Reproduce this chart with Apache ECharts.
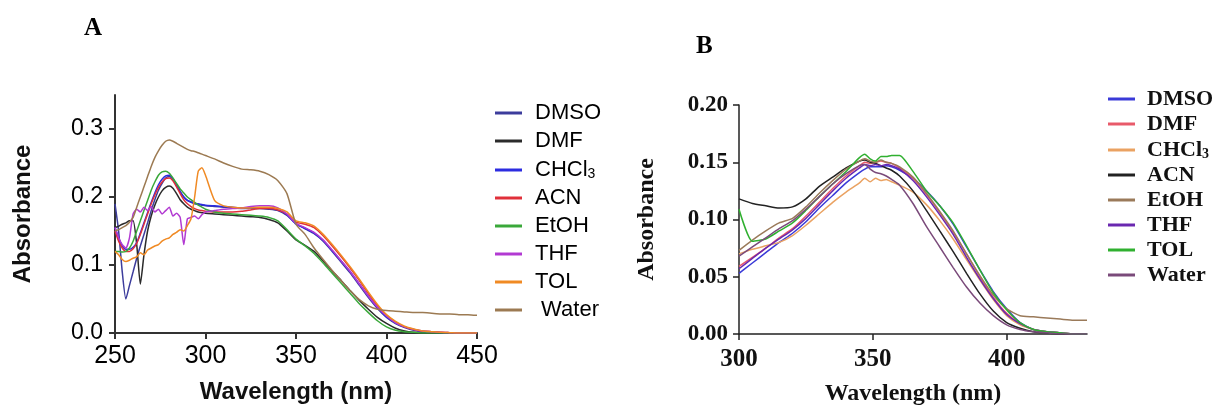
<!DOCTYPE html>
<html>
<head>
<meta charset="utf-8">
<script src="https://cdn.jsdelivr.net/npm/echarts@6/dist/echarts.min.js"></script>
<style>
  html, body { margin: 0; padding: 0; background: #fff; }
  #main { width: 1225px; height: 411px; }
</style>
</head>
<body>
<div id="main"></div>
<script>
// ---- panel A : 250-450 nm ----
var wlA = [250,252,254,256,258,260,262,264,266,268,270,272,274,276,278,280,282,284,286,288,
           290,292,294,296,298,300,305,310,315,320,325,330,335,340,345,350,355,360,365,370,
           375,380,385,390,395,400,405,410,415,420,425,430,435,440,445,450];
var dmsoA  = [.19,.15,.09,.05,.07,.09,.11,.128,.145,.162, .18,.196,.21,.22,.228,.23,.226,.218,.208,.2,
              .195,.192,.19,.189,.188,.187,.186,.185,.184,.183, .183,.183,.182,.18,.173,.161,.153,.146,.135,.12,
              .104,.088,.07,.052,.036,.023,.014,.008,.004,.002, .001,.0005,0,0,0,0];
var dmfA   = [.155,.157,.16,.162,.165,.165,.13,.072,.115,.15, .172,.188,.2,.209,.214,.216,.213,.205,.196,.19,
              .185,.182,.18,.178,.177,.176,.175,.174,.173,.172, .171,.17,.167,.162,.15,.137,.129,.12,.106,.091,
              .077,.062,.048,.035,.023,.014,.007,.003,.001,0, 0,0,0,0,0,0];
var chcl3A = [.155,.14,.128,.123,.123,.126,.133,.147,.162,.177, .192,.206,.218,.226,.231,.232,.227,.218,.208,.2,
              .195,.193,.191,.19,.189,.188,.187,.186,.185,.184, .184,.184,.183,.181,.174,.16,.154,.147,.136,.121,
              .106,.09,.072,.054,.038,.024,.015,.009,.005,.002, .001,.0005,0,0,0,0];
var acnA   = [.15,.135,.125,.12,.12,.124,.132,.145,.16,.175, .19,.203,.214,.222,.227,.228,.224,.215,.205,.196,
              .19,.186,.183,.181,.18,.179,.178,.178,.178,.179, .181,.183,.183,.181,.175,.163,.16,.155,.143,.128,
              .112,.095,.077,.058,.04,.026,.016,.009,.005,.003, .002,.001,.0005,0,0,0];
var etohA  = [.12,.12,.119,.12,.125,.135,.15,.165,.18,.195, .21,.222,.232,.237,.238,.235,.228,.22,.212,.206,
              .2,.196,.192,.188,.185,.182,.178,.176,.175,.174, .173,.172,.17,.165,.152,.138,.128,.117,.103,.088,
              .073,.058,.043,.03,.018,.009,.004,.002,.001,0, 0,0,0,0,0,0];
var thfA   = [.155,.14,.13,.125,.14,.175,.182,.178,.185,.18, .186,.178,.182,.175,.18,.185,.172,.176,.17,.13,
              .168,.17,.172,.168,.174,.178,.18,.182,.183,.184, .186,.187,.187,.184,.175,.161,.155,.148,.137,.122,
              .106,.09,.072,.054,.038,.025,.015,.009,.005,.003, .002,.001,.0005,0,0,0];
var tolA   = [.12,.115,.108,.105,.107,.11,.112,.118,.115,.122, .125,.128,.13,.135,.138,.14,.145,.148,.152,.15,
              .158,.168,.2,.238,.243,.232,.195,.187,.185,.184, .184,.185,.185,.183,.178,.165,.162,.157,.145,.13,
              .114,.097,.079,.06,.042,.027,.017,.01,.006,.003, .002,.001,.0005,0,0,0];
var waterA = [.15,.152,.155,.158,.163,.17,.185,.2,.215,.23, .245,.258,.268,.276,.282,.284,.282,.279,.276,.273,
              .27,.268,.267,.265,.263,.261,.256,.25,.245,.241, .24,.238,.233,.224,.205,.16,.145,.125,.108,.092,
              .077,.062,.049,.04,.035,.033,.032,.031,.03,.03, .029,.028,.028,.027,.027,.026];

// ---- panel B : 300-430 nm ----
var wlB = [300,305,310,315,320,325,330,335,340,345,347,349,351,353,355,357,
           360,365,370,375,380,385,390,395,400,405,410,415,420,425,430];
var dmsoB  = [.053,.062,.071,.080,.088,.098,.110,.121,.132,.141, .144,.146,.146,.146,.147,.146,
              .143,.136,.125,.112,.096,.076,.056,.037,.022,.010,.004,.002,.001,0,0];
var dmfB   = [.059,.067,.075,.084,.092,.103,.115,.127,.138,.147, .150,.149,.150,.151,.150,.149,
              .145,.136,.122,.106,.089,.070,.050,.032,.018,.009,.004,.002,.001,0,0];
var chcl3B = [.070,.074,.077,.080,.086,.095,.105,.115,.124,.132, .136,.133,.136,.134,.135,.133,
              .130,.124,.113,.099,.083,.065,.047,.030,.016,.008,.004,.002,.001,0,0];
var acnB   = [.118,.114,.112,.110,.111,.118,.129,.137,.145,.151, .152,.150,.149,.147,.145,.143,
              .138,.125,.108,.090,.072,.053,.035,.020,.010,.005,.002,.001,0,0,0];
var etohB  = [.073,.082,.090,.097,.101,.111,.123,.134,.144,.151, .153,.151,.150,.152,.150,.149,
              .146,.137,.123,.107,.090,.070,.051,.034,.022,.016,.015,.014,.013,.012,.012];
var thfB   = [.057,.066,.075,.083,.091,.101,.113,.125,.136,.145, .148,.147,.148,.147,.148,.147,
              .144,.134,.120,.104,.087,.067,.048,.031,.017,.009,.004,.002,.001,0,0];
var tolB   = [.109,.081,.083,.090,.097,.108,.120,.131,.142,.154, .157,.153,.151,.155,.155,.156,
              .156,.142,.125,.112,.097,.077,.056,.036,.021,.010,.004,.002,.001,0,0];
var waterB = [.068,.076,.084,.092,.099,.109,.120,.131,.140,.147, .148,.144,.141,.140,.138,.135,
              .130,.114,.094,.076,.058,.041,.027,.016,.008,.004,.002,.001,0,0,0];

var namesA  = ['DMSO','DMF','CHCl3','ACN','EtOH','THF','TOL','Water'];
var seriesA = [dmsoA, dmfA, chcl3A, acnA, etohA, thfA, tolA, waterA];
var colorsA = ['#3c3c9c','#2b2b2b','#2c2ce0','#e0303a','#3aa83a','#b23ad2','#f08a24','#9c7a52'];
var namesB  = ['DMSO','DMF','CHCl3','ACN','EtOH','THF','TOL','Water'];
var seriesB = [dmsoB, dmfB, chcl3B, acnB, etohB, thfB, tolB, waterB];
var colorsB = ['#3a3ad8','#e85a6a','#eaa262','#222222','#9a7a5a','#6a28b0','#30b030','#7a4a7a'];

function pairs(xs, ys) {
    var out = [];
    for (var i = 0; i < xs.length; i++) out.push([xs[i], ys[i]]);
    return out;
}

// legend text: drop the panel prefix, subscript the 3 of CHCl3
function legendName(name) {
    var n = name.slice(2);
    if (n === 'CHCl3') return 'CHCl{sub|3}';
    if (name === 'A-Water') return ' Water';
    return n;
}

var sansFont = 'Liberation Sans';
var serifFont = 'Liberation Serif';

var series = [];
namesA.forEach(function (n, i) {
    series.push({
        name: 'A-' + n, type: 'line', xAxisIndex: 0, yAxisIndex: 0,
        data: pairs(wlA, seriesA[i]), showSymbol: false, symbol: 'none', smooth: 0.2,
        color: colorsA[i], lineStyle: { width: 1.5 }
    });
});
namesB.forEach(function (n, i) {
    series.push({
        name: 'B-' + n, type: 'line', xAxisIndex: 1, yAxisIndex: 1,
        data: pairs(wlB, seriesB[i]), showSymbol: false, symbol: 'none', smooth: 0.2,
        color: colorsB[i], lineStyle: { width: 1.5 }
    });
});

var myChart = echarts.init(document.getElementById('main'));
var option = {
    backgroundColor: '#fff',
    animation: false,
    grid: [
        { left: 115, top: 95, width: 362, height: 238 },
        { left: 739, top: 105, width: 348, height: 230 }
    ],
    xAxis: [{
        gridIndex: 0, type: 'value', min: 250, max: 450, interval: 50,
        name: 'Wavelength (nm)', nameLocation: 'middle', nameGap: 47,
        nameTextStyle: { fontFamily: sansFont, fontWeight: 'bold', fontSize: 24, color: '#111' },
        axisLine: { lineStyle: { color: '#333', width: 2 } },
        axisTick: { length: 6, lineStyle: { color: '#333', width: 2 } },
        axisLabel: { fontFamily: sansFont, fontSize: 25, color: '#000', margin: 11 },
        splitLine: { show: false }
    }, {
        gridIndex: 1, type: 'value', min: 300, max: 430, interval: 50,
        name: 'Wavelength (nm)', nameLocation: 'middle', nameGap: 48,
        nameTextStyle: { fontFamily: serifFont, fontWeight: 'bold', fontSize: 24, color: '#111' },
        axisLine: { lineStyle: { color: '#222', width: 1.5 } },
        axisTick: { length: 6, lineStyle: { color: '#222', width: 1.5 }, customValues: [300, 350, 400] },
        axisLabel: { fontFamily: serifFont, fontWeight: 'bold', fontSize: 25, color: '#111', margin: 13,
                     customValues: [300, 350, 400] },
        splitLine: { show: false }
    }],
    yAxis: [{
        gridIndex: 0, type: 'value', min: 0, max: 0.35,
        name: 'Absorbance', nameLocation: 'middle', nameGap: 80,
        nameTextStyle: { fontFamily: sansFont, fontWeight: 'bold', fontSize: 24, color: '#111' },
        axisLine: { show: true, lineStyle: { color: '#333', width: 2 } },
        axisTick: { show: true, length: 6, lineStyle: { color: '#333', width: 2 }, customValues: [0, 0.1, 0.2, 0.3] },
        axisLabel: { fontFamily: sansFont, fontSize: 23, color: '#000', margin: 12,
                     customValues: [0, 0.1, 0.2, 0.3],
                     formatter: function (v) { return v.toFixed(1); } },
        splitLine: { show: false }
    }, {
        gridIndex: 1, type: 'value', min: 0, max: 0.2, interval: 0.05,
        name: 'Absorbance', nameLocation: 'middle', nameGap: 80,
        nameTextStyle: { fontFamily: serifFont, fontWeight: 'bold', fontSize: 24, color: '#111' },
        axisLine: { show: true, lineStyle: { color: '#222', width: 1.5 } },
        axisTick: { show: true, length: 6, lineStyle: { color: '#222', width: 1.5 } },
        axisLabel: { fontFamily: serifFont, fontWeight: 'bold', fontSize: 23, color: '#111', margin: 11,
                     formatter: function (v) { return v.toFixed(2); } },
        splitLine: { show: false }
    }],
    legend: [{
        orient: 'vertical', left: 490, top: 97, itemWidth: 27, itemHeight: 3, itemGap: 6,
        icon: 'rect', selectedMode: false,
        data: namesA.map(function (n) { return 'A-' + n; }),
        formatter: legendName,
        textStyle: {
            fontFamily: sansFont, fontSize: 22, color: '#000', lineHeight: 22, padding: [0, 0, 0, 8],
            rich: { sub: { fontFamily: sansFont, fontSize: 14, lineHeight: 22, verticalAlign: 'bottom', padding: [9, 0, 0, 0] } }
        }
    }, {
        orient: 'vertical', left: 1103, top: 83, itemWidth: 27, itemHeight: 3, itemGap: 3,
        icon: 'rect', selectedMode: false,
        data: namesB.map(function (n) { return 'B-' + n; }),
        formatter: legendName,
        textStyle: {
            fontFamily: serifFont, fontWeight: 'bold', fontSize: 22, color: '#111', lineHeight: 22, padding: [0, 0, 0, 7],
            rich: { sub: { fontFamily: serifFont, fontWeight: 'bold', fontSize: 14, lineHeight: 22, verticalAlign: 'bottom', padding: [9, 0, 0, 0] } }
        }
    }],
    graphic: [
        { type: 'text', left: 84, top: 16, style: { text: 'A', font: 'bold 25px "Liberation Serif"', fill: '#000' } },
        { type: 'text', left: 696, top: 34, style: { text: 'B', font: 'bold 25px "Liberation Serif"', fill: '#000' } }
    ],
    series: series
};
myChart.setOption(option);
</script>
</body>
</html>
